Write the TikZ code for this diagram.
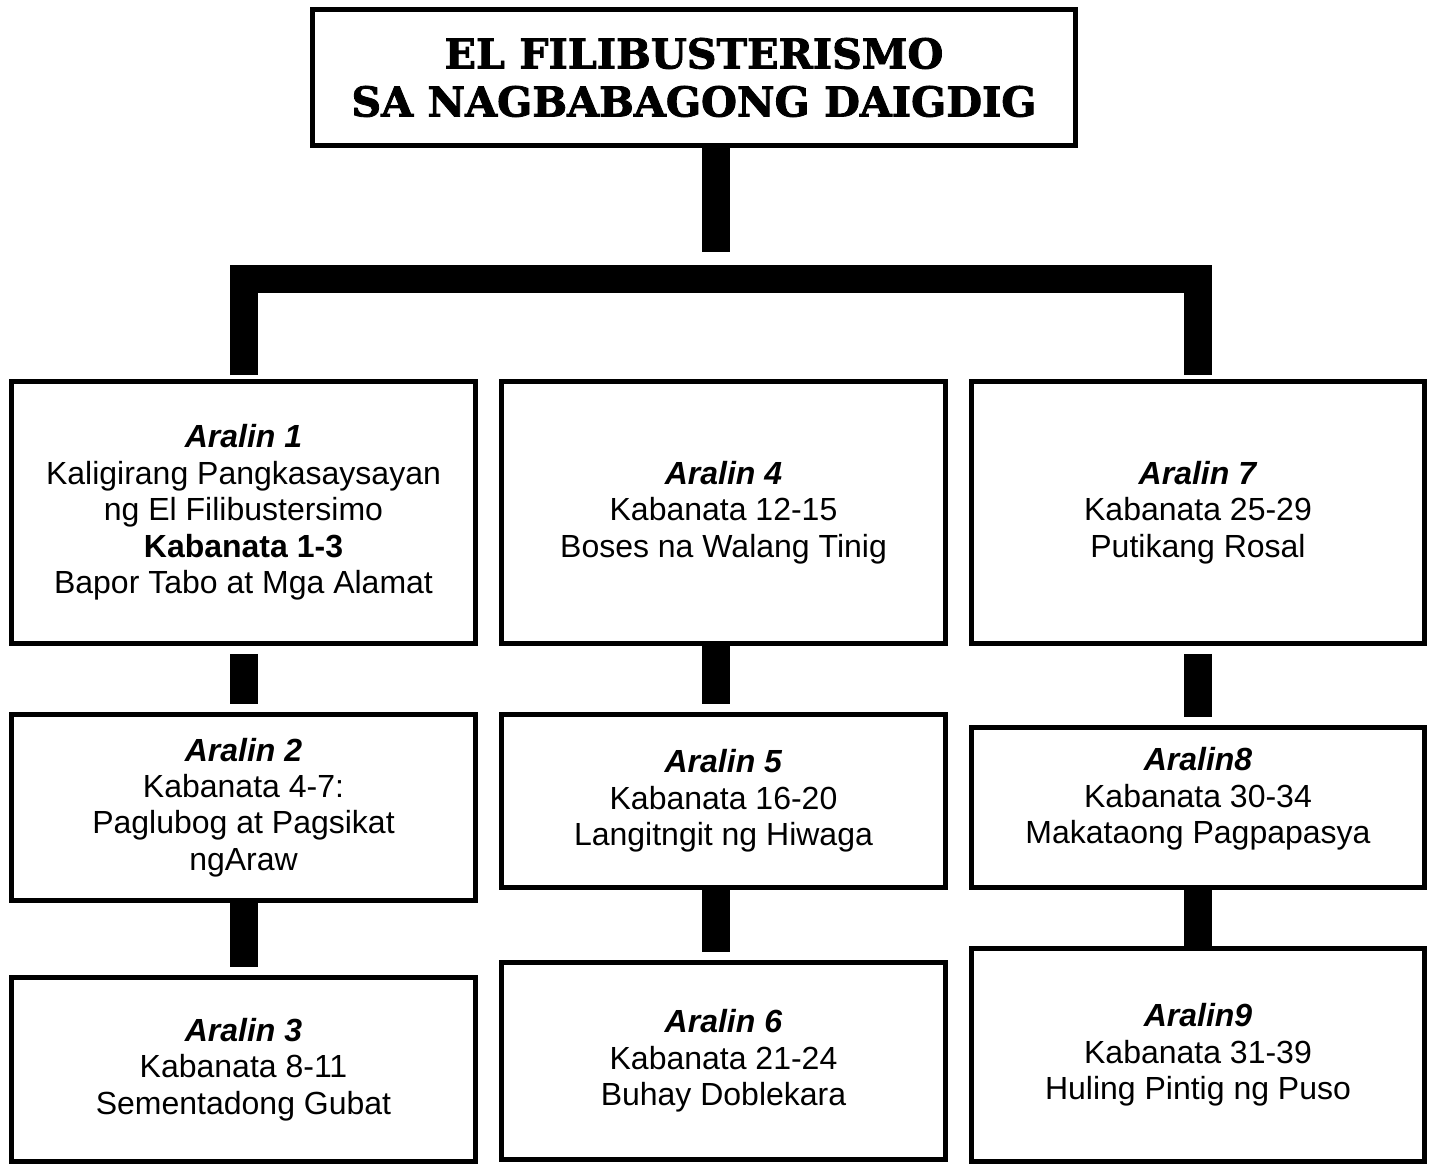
\documentclass[tikz,border=0pt]{standalone}
\usepackage{fontspec}
\setmainfont{Liberation Sans}
\newfontfamily\titlefont{DejaVu Serif}[BoldFeatures={FakeBold=2}]
\usepackage{tikz}

\begin{document}
\begin{tikzpicture}
[x=0.5pt,y=-0.5pt]
\tikzset{
	box/.style = {rectangle, draw, line width = 2.4pt, inner sep = 0, align = center, font = \fontsize{16}{18.2}\selectfont},
	col1/.style = {box, minimum width = 232pt},
	col2/.style = {box, minimum width = 222pt},
	col3/.style = {box, minimum width = 226.5pt},
	bar/.style = {line width = 14pt, line join = miter, shorten <= 4pt, shorten >= 4pt}
}
\useasboundingbox (0,0) rectangle (1434,1165);

\node(title) [box, minimum width = 381.5pt, minimum height = 68pt, font = \titlefont\bfseries\fontsize{20.6}{24}\selectfont] at (694,77.5)
	{EL FILIBUSTERISMO\\SA NAGBABAGONG DAIGDIG};

\node(a1) [col1, minimum height = 131pt] at (243.5,512.5)
	{\textbf{\textit{Aralin 1}}\\Kaligirang Pangkasaysayan\\ng El Filibustersimo\\\textbf{Kabanata 1-3}\\Bapor Tabo at Mga Alamat};
\node(a2) [col1, minimum height = 93pt] at (243.5,807.5)
	{\textbf{\textit{Aralin 2}}\\Kabanata 4-7:\\Paglubog at Pagsikat\\ngAraw};
\node(a3) [col1, minimum height = 92pt] at (243.5,1069.5)
	{\textbf{\textit{Aralin 3}}\\Kabanata 8-11\\Sementadong Gubat};

\node(a4) [col2, minimum height = 131pt] at (723.5,512.5)
	{\textbf{\textit{Aralin 4}}\\Kabanata 12-15\\Boses na Walang Tinig};
\node(a5) [col2, minimum height = 86.5pt] at (723.5,801)
	{\textbf{\textit{Aralin 5}}\\Kabanata 16-20\\Langitngit ng Hiwaga};
\node(a6) [col2, minimum height = 98.5pt] at (723.5,1061)
	{\textbf{\textit{Aralin 6}}\\Kabanata 21-24\\Buhay Doblekara};

\node(a7) [col3, minimum height = 131pt] at (1198,512.5)
	{\textbf{\textit{Aralin 7}}\\Kabanata 25-29\\Putikang Rosal};
\node(a8) [col3, minimum height = 80pt] at (1198,807.5)
	{\textbf{\textit{Aralin8}}\\Kabanata 30-34\\Makataong Pagpapasya\\[-6.2pt]};
\node(a9) [col3, minimum height = 106.5pt] at (1198,1055)
	{\textbf{\textit{Aralin9}}\\Kabanata 31-39\\Huling Pintig ng Puso};

\coordinate(stubend) at (716,252);
\coordinate(brace) at (716,279);

\draw [bar, shorten <= 0pt, shorten >= 0pt] ([xshift = 11pt]title.south) -- (stubend);
\draw [bar, shorten <= 2pt, shorten >= 2pt] (a1.north) |- (brace) -| (a7.north);

\draw [bar] (a1) -- (a2);
\draw [bar, shorten <= 0pt] (a2) -- (a3);
\draw [bar, shorten <= 0pt] ([xshift = -3.75pt]a4.south) -- ([xshift = -3.75pt]a5.north);
\draw [bar, shorten <= 0pt] ([xshift = -3.75pt]a5.south) -- ([xshift = -3.75pt]a6.north);
\draw [bar] (a7) -- (a8);
\draw [bar, shorten <= 0pt, shorten >= 0pt] (a8) -- (a9);
\end{tikzpicture}
\end{document}
